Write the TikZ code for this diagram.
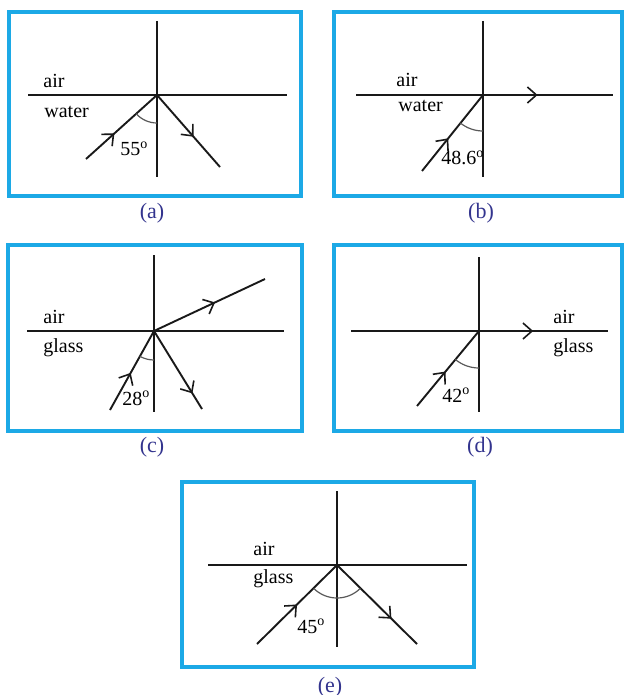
\documentclass[tikz,border=0pt]{standalone}
\usepackage{fontspec}
\setmainfont{Liberation Serif}
\usetikzlibrary{arrows.meta,decorations.markings}
\definecolor{boxblue}{HTML}{1CA9E6}
\definecolor{capblue}{HTML}{33348E}
\tikzset{
  panel/.style={draw=boxblue, line width=1.6pt},
  axis/.style={line width=1.1pt, draw=black!90},
  ray/.style={line width=0.95pt, draw=black!90},
  raymark/.style={postaction={decorate}, decoration={markings,
      mark=at position #1 with {\arrow{Straight Barb[length=4.5pt,width=8pt,line width=0.8pt]}}}},
  angarc/.style={line width=0.6pt, draw=black!65},
  lbl/.style={anchor=base west, inner sep=0pt},
  caption/.style={text=capblue, font=\fontsize{11}{13}\selectfont}
}

\begin{document}
\begin{tikzpicture}[x=0.5pt, y=-0.5pt]
\useasboundingbox (0,0) rectangle (625,695);

% (a) air / water, 55
\draw[panel] (9,12) rectangle (301,196);
\coordinate (a0) at (157,95);
\coordinate (ain) at (86,159);
\coordinate (aout) at (220,167);
\draw[axis] (157,21) -- (157,177);
\draw[axis] (28,95) -- (287,95);
\draw[ray, raymark=0.4] (ain) -- (a0);
\draw[ray, raymark=0.58] (a0) -- (aout);
\draw[angarc] (a0) ++(90:28) arc[start angle=90, end angle=138, radius=28];
\node[lbl] (aair) at (43,88) {air};
\node[lbl] (awater) at (44,118) {water};
\node[lbl] (aang) at (120,156) {55\textsuperscript{o}};
\node[caption] (capa) at (152,213) {(a)};

% (b) air / water, 48.6
\draw[panel] (334,12) rectangle (622,196);
\coordinate (b0) at (483,95);
\coordinate (bin) at (422,171);
\coordinate (bout) at (613,95);
\draw[axis] (483,21) -- (483,177);
\draw[axis] (356,95) -- (b0);
\draw[axis, raymark=0.42] (b0) -- (bout);
\draw[ray, raymark=0.43] (bin) -- (b0);
\draw[angarc] (b0) ++(90:36) arc[start angle=90, end angle=129, radius=36];
\node[lbl] (bair) at (396,87) {air};
\node[lbl] (bwater) at (398,112) {water};
\node[lbl] (bang) at (441,165) {48.6\textsuperscript{o}};
\node[caption] (capb) at (481,213) {(b)};

% (c) air / glass, 28
\draw[panel] (8,245) rectangle (302,431);
\coordinate (c0) at (154,331);
\coordinate (cin) at (110,410);
\coordinate (cup) at (265,279);
\coordinate (cdown) at (202,409);
\draw[axis] (154,255) -- (154,412);
\draw[axis] (27,331) -- (284,331);
\draw[ray, raymark=0.47] (cin) -- (c0);
\draw[ray, raymark=0.55] (c0) -- (cup);
\draw[ray, raymark=0.8] (c0) -- (cdown);
\draw[angarc] (c0) ++(90:29) arc[start angle=90, end angle=119, radius=29];
\node[lbl] (cair) at (43,323) {air};
\node[lbl] (cglass) at (43,352) {glass};
\node[lbl] (cang) at (122,405) {28\textsuperscript{o}};
\node[caption] (capc) at (152,447) {(c)};

% (d) air / glass, 42
\draw[panel] (334,245) rectangle (622,431);
\coordinate (d0) at (479,331);
\coordinate (din) at (417,406);
\coordinate (dout) at (608,331);
\draw[axis] (479,257) -- (479,412);
\draw[axis] (351,331) -- (d0);
\draw[axis, raymark=0.42] (d0) -- (dout);
\draw[ray, raymark=0.46] (din) -- (d0);
\draw[angarc] (d0) ++(90:37) arc[start angle=90, end angle=130, radius=37];
\node[lbl] (dair) at (553,323) {air};
\node[lbl] (dglass) at (553,352) {glass};
\node[lbl] (dang) at (442,402) {42\textsuperscript{o}};
\node[caption] (capd) at (480,447) {(d)};

% (e) air / glass, 45
\draw[panel] (182,482) rectangle (474,667);
\coordinate (e0) at (337,565);
\coordinate (ein) at (257,644);
\coordinate (eout) at (417,644);
\draw[axis] (337,491) -- (337,647);
\draw[axis] (208,565) -- (467,565);
\draw[ray, raymark=0.5] (ein) -- (e0);
\draw[ray, raymark=0.68] (e0) -- (eout);
\draw[angarc] (e0) ++(90:33) arc[start angle=90, end angle=135, radius=33];
\draw[angarc] (e0) ++(45:33) arc[start angle=45, end angle=90, radius=33];
\node[lbl] (eair) at (253,555) {air};
\node[lbl] (eglass) at (253,583) {glass};
\node[lbl] (eang) at (297,633) {45\textsuperscript{o}};
\node[caption] (cape) at (330,687) {(e)};
\end{tikzpicture}
\end{document}
